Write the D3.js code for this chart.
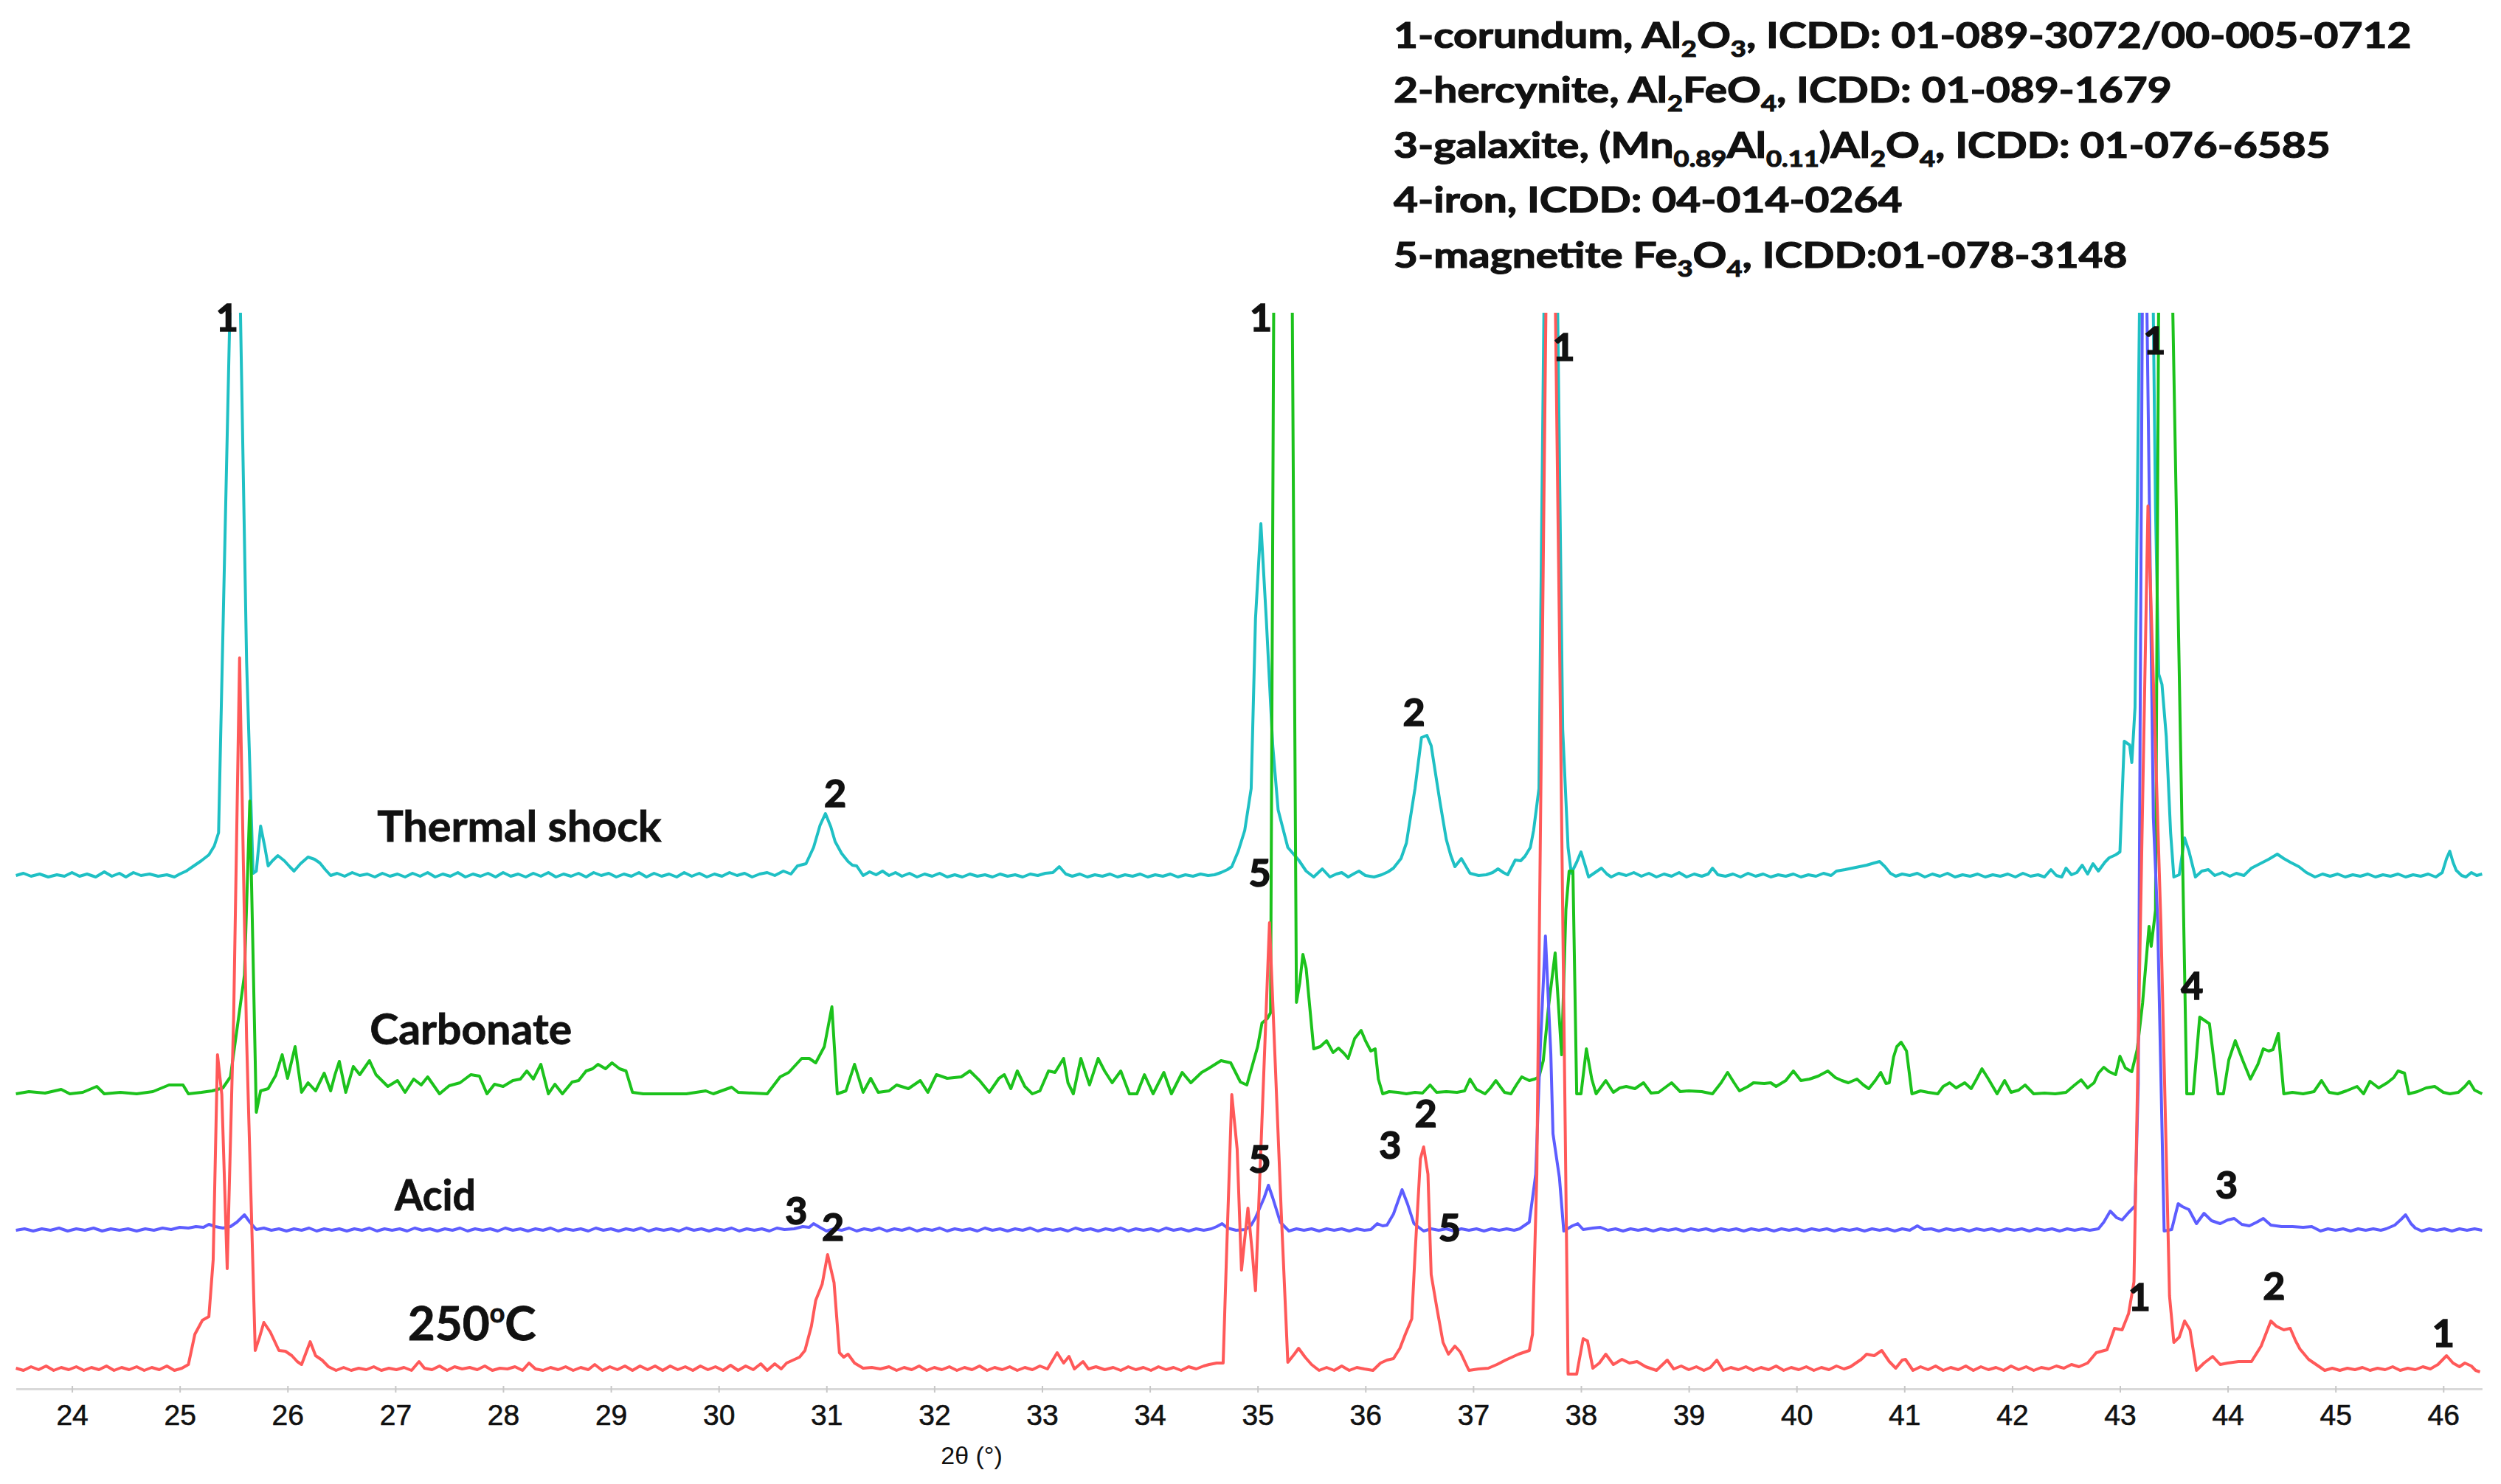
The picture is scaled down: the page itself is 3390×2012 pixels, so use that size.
<!DOCTYPE html>
<html><head><meta charset="utf-8">
<script src="https://cdn.jsdelivr.net/npm/d3@7"></script>
<style>html,body{margin:0;padding:0;background:#fff;}svg{display:block;}</style>
</head><body><div id="chart"></div>
<script>
// ---------------- DATA ----------------
const seriesNames = ["Thermal shock", "Carbonate", "Acid", "250°C"];
const seriesOffsets = [694, 400, 214, 25];
const xTicks = [24,25,26,27,28,29,30,31,32,33,34,35,36,37,38,39,40,41,42,43,44,45,46];
const xTitle = "2θ (°)";

const thermalShock = [[23.48,2],[23.55,5],[23.62,1],[23.70,4],[23.78,0],[23.86,3],[23.93,1],[24.00,6],[24.07,1],[24.14,4],[24.22,0],[24.30,7],[24.37,1],[24.44,5],[24.50,0],[24.57,6],[24.64,2],[24.72,4],[24.80,1],[24.88,3],[24.95,0],[25.00,4],[25.06,8],[25.12,14],[25.20,22],[25.27,30],[25.32,42],[25.36,60],[25.47,800],[25.515,1100],[25.56,790],[25.62,292],[25.68,5],[25.71,8],[25.75,69],[25.79,40],[25.82,15],[25.86,22],[25.91,29],[25.97,22],[26.02,14],[26.06,8],[26.12,18],[26.19,27],[26.25,24],[26.30,19],[26.35,10],[26.40,2],[26.46,5],[26.53,1],[26.60,6],[26.67,2],[26.74,4],[26.81,0],[26.88,5],[26.95,1],[27.02,4],[27.09,0],[27.16,5],[27.23,1],[27.30,6],[27.37,0],[27.44,4],[27.51,1],[27.58,6],[27.65,0],[27.72,4],[27.79,1],[27.86,5],[27.93,0],[28.00,6],[28.07,1],[28.14,4],[28.21,0],[28.28,5],[28.35,1],[28.42,6],[28.49,0],[28.56,4],[28.63,1],[28.70,5],[28.77,0],[28.84,6],[28.91,2],[28.98,5],[29.05,0],[29.12,4],[29.19,1],[29.26,6],[29.33,0],[29.40,5],[29.47,1],[29.54,4],[29.61,0],[29.68,6],[29.75,1],[29.82,5],[29.89,0],[29.96,4],[30.03,1],[30.10,6],[30.17,2],[30.24,5],[30.31,0],[30.38,4],[30.45,6],[30.52,2],[30.60,8],[30.67,4],[30.73,15],[30.81,18],[30.88,40],[30.94,70],[30.99,86],[31.04,68],[31.08,48],[31.14,32],[31.20,21],[31.24,16],[31.28,15],[31.34,2],[31.40,7],[31.46,3],[31.52,8],[31.58,2],[31.64,6],[31.70,1],[31.77,5],[31.84,0],[31.91,4],[31.98,1],[32.05,5],[32.12,0],[32.19,3],[32.26,0],[32.33,4],[32.40,1],[32.47,3],[32.54,0],[32.61,4],[32.68,1],[32.75,3],[32.82,0],[32.89,4],[32.96,2],[33.03,5],[33.10,6],[33.16,14],[33.22,4],[33.28,1],[33.35,4],[33.42,0],[33.49,3],[33.56,1],[33.63,4],[33.70,0],[33.77,3],[33.84,1],[33.91,4],[33.98,0],[34.05,3],[34.12,1],[34.19,4],[34.26,0],[34.33,3],[34.40,1],[34.47,4],[34.54,2],[34.60,3],[34.66,6],[34.72,10],[34.76,14],[34.82,35],[34.88,63],[34.94,120],[34.98,350],[35.03,479],[35.08,350],[35.14,178],[35.19,91],[35.28,40],[35.38,23],[35.45,8],[35.52,0],[35.60,11],[35.67,0],[35.73,4],[35.78,6],[35.84,0],[35.90,5],[35.94,8],[36.00,2],[36.08,0],[36.15,3],[36.21,7],[36.26,12],[36.33,25],[36.38,46],[36.46,120],[36.52,189],[36.57,192],[36.61,178],[36.69,103],[36.75,51],[36.79,30],[36.83,14],[36.89,25],[36.93,15],[36.97,5],[37.05,2],[37.12,3],[37.18,6],[37.23,11],[37.28,6],[37.32,3],[37.39,23],[37.44,22],[37.48,28],[37.53,40],[37.56,63],[37.61,120],[37.715,1600],[37.83,200],[37.88,40],[37.91,5],[37.96,20],[38.00,34],[38.04,15],[38.07,0],[38.13,6],[38.19,12],[38.24,4],[38.28,0],[38.35,5],[38.42,2],[38.49,6],[38.56,1],[38.63,5],[38.70,0],[38.77,4],[38.84,1],[38.91,6],[38.98,0],[39.05,4],[39.12,1],[39.18,4],[39.22,12],[39.27,3],[39.34,1],[39.41,4],[39.48,0],[39.55,5],[39.62,1],[39.69,4],[39.76,0],[39.83,3],[39.90,1],[39.97,4],[40.04,0],[40.11,3],[40.18,1],[40.25,5],[40.32,2],[40.37,8],[40.45,10],[40.55,13],[40.65,16],[40.72,19],[40.77,21],[40.82,14],[40.87,5],[40.92,1],[40.98,4],[41.05,2],[41.12,5],[41.19,0],[41.26,4],[41.33,1],[41.40,5],[41.47,0],[41.54,3],[41.61,1],[41.68,4],[41.75,0],[41.82,3],[41.89,1],[41.96,4],[42.03,0],[42.10,5],[42.17,1],[42.24,3],[42.30,0],[42.36,10],[42.41,2],[42.46,0],[42.50,12],[42.55,3],[42.60,6],[42.65,16],[42.70,4],[42.75,18],[42.80,8],[42.86,20],[42.90,26],[42.96,30],[43.00,34],[43.04,184],[43.09,179],[43.11,155],[43.14,230],[43.245,1600],[43.33,500],[43.36,275],[43.39,261],[43.43,190],[43.47,60],[43.50,0],[43.55,3],[43.60,53],[43.64,35],[43.70,0],[43.76,8],[43.82,10],[43.88,2],[43.95,6],[44.02,1],[44.08,5],[44.15,2],[44.22,12],[44.30,18],[44.38,24],[44.46,31],[44.52,25],[44.58,20],[44.66,14],[44.73,6],[44.81,0],[44.88,4],[44.95,1],[45.02,4],[45.09,0],[45.16,3],[45.23,1],[45.30,4],[45.37,0],[45.44,3],[45.51,1],[45.58,4],[45.65,0],[45.72,3],[45.79,1],[45.86,4],[45.93,0],[45.99,6],[46.03,25],[46.06,35],[46.09,20],[46.12,9],[46.17,2],[46.21,0],[46.26,6],[46.31,2],[46.36,4]];

const carbonate = [[23.48,0],[23.60,3],[23.75,1],[23.90,6],[23.98,0],[24.10,2],[24.23,10],[24.30,0],[24.45,2],[24.60,0],[24.75,3],[24.90,12],[25.03,12],[25.08,0],[25.20,2],[25.30,4],[25.40,8],[25.47,23],[25.60,161],[25.65,397],[25.71,-25],[25.75,4],[25.82,7],[25.89,25],[25.95,53],[26.00,21],[26.07,64],[26.13,2],[26.19,15],[26.26,4],[26.34,28],[26.40,4],[26.44,26],[26.48,44],[26.54,2],[26.61,37],[26.67,26],[26.76,45],[26.82,26],[26.93,10],[27.02,18],[27.09,2],[27.17,20],[27.24,12],[27.30,23],[27.41,0],[27.50,11],[27.60,15],[27.70,26],[27.78,24],[27.85,0],[27.92,13],[28.00,10],[28.09,18],[28.16,20],[28.22,31],[28.28,20],[28.35,40],[28.42,0],[28.48,13],[28.55,0],[28.64,16],[28.70,18],[28.77,31],[28.83,34],[28.88,40],[28.95,34],[29.01,42],[29.08,34],[29.14,31],[29.20,2],[29.30,0],[29.50,0],[29.70,0],[29.88,4],[29.95,0],[30.12,9],[30.18,2],[30.45,0],[30.57,23],[30.65,29],[30.77,48],[30.84,48],[30.90,42],[30.98,64],[31.05,118],[31.10,0],[31.18,4],[31.26,40],[31.34,2],[31.41,21],[31.48,2],[31.58,4],[31.65,12],[31.76,7],[31.87,18],[31.94,2],[32.02,26],[32.12,21],[32.25,23],[32.33,31],[32.42,18],[32.51,2],[32.60,21],[32.65,26],[32.71,7],[32.77,31],[32.84,10],[32.91,0],[32.98,4],[33.06,31],[33.12,29],[33.20,48],[33.24,15],[33.29,0],[33.36,48],[33.44,12],[33.52,48],[33.58,31],[33.65,15],[33.73,31],[33.81,0],[33.88,0],[33.95,26],[34.03,0],[34.13,29],[34.20,0],[34.30,29],[34.38,15],[34.48,29],[34.54,34],[34.66,45],[34.75,42],[34.84,16],[34.90,12],[35.00,64],[35.04,96],[35.09,102],[35.12,110],[35.15,1100],[35.235,1800],[35.32,1100],[35.36,124],[35.39,150],[35.42,189],[35.45,170],[35.52,61],[35.58,64],[35.64,72],[35.70,56],[35.75,62],[35.80,55],[35.84,48],[35.90,75],[35.96,86],[36.00,72],[36.05,58],[36.09,61],[36.12,20],[36.16,0],[36.22,3],[36.30,2],[36.38,0],[36.46,2],[36.53,1],[36.60,12],[36.66,2],[36.75,3],[36.85,2],[36.92,4],[36.97,20],[37.03,6],[37.11,0],[37.16,8],[37.21,18],[37.29,2],[37.35,0],[37.40,12],[37.45,23],[37.52,18],[37.57,20],[37.61,23],[37.65,45],[37.70,120],[37.76,191],[37.82,53],[37.86,250],[37.89,302],[37.925,302],[37.96,0],[38.00,0],[38.05,61],[38.10,20],[38.14,0],[38.23,18],[38.30,2],[38.36,8],[38.42,10],[38.50,7],[38.58,15],[38.65,1],[38.72,2],[38.84,15],[38.92,3],[39.00,4],[39.12,3],[39.22,0],[39.30,15],[39.36,29],[39.42,15],[39.47,4],[39.55,10],[39.60,15],[39.70,14],[39.76,15],[39.81,10],[39.90,18],[39.97,31],[40.04,18],[40.12,20],[40.20,24],[40.29,31],[40.36,22],[40.42,18],[40.48,15],[40.56,20],[40.62,12],[40.67,7],[40.73,18],[40.78,29],[40.83,14],[40.86,15],[40.90,50],[40.93,64],[40.97,70],[41.02,58],[41.07,0],[41.15,4],[41.22,2],[41.31,0],[41.36,10],[41.42,15],[41.48,8],[41.56,15],[41.62,7],[41.67,20],[41.72,34],[41.78,20],[41.86,0],[41.93,18],[41.99,2],[42.06,5],[42.12,12],[42.20,0],[42.30,1],[42.40,0],[42.50,2],[42.58,12],[42.64,19],[42.70,8],[42.76,15],[42.80,28],[42.85,36],[42.90,30],[42.96,26],[43.00,51],[43.05,35],[43.11,30],[43.16,60],[43.21,123],[43.27,227],[43.29,200],[43.33,249],[43.36,1100],[43.42,1600],[43.49,1064],[43.62,0],[43.68,0],[43.74,104],[43.78,100],[43.83,95],[43.91,0],[43.96,0],[44.01,46],[44.07,72],[44.14,45],[44.21,20],[44.28,40],[44.33,61],[44.38,58],[44.42,60],[44.47,82],[44.52,0],[44.60,2],[44.70,0],[44.80,3],[44.87,18],[44.94,2],[45.02,0],[45.10,4],[45.20,10],[45.26,0],[45.32,17],[45.40,8],[45.48,15],[45.54,22],[45.58,31],[45.64,28],[45.68,0],[45.76,3],[45.84,8],[45.92,10],[46.00,2],[46.06,0],[46.14,2],[46.20,10],[46.24,17],[46.29,5],[46.36,0]];

const acid = [[23.48,1],[23.56,3],[23.64,0],[23.72,3],[23.80,1],[23.88,4],[23.96,0],[24.04,3],[24.12,1],[24.20,4],[24.28,0],[24.36,3],[24.44,1],[24.52,3],[24.60,0],[24.68,3],[24.76,1],[24.84,4],[24.92,2],[25.00,5],[25.08,4],[25.15,6],[25.22,5],[25.27,9],[25.33,6],[25.40,4],[25.47,6],[25.53,12],[25.60,22],[25.65,12],[25.71,2],[25.78,4],[25.85,1],[25.92,3],[25.99,0],[26.06,3],[26.13,1],[26.20,4],[26.27,0],[26.34,3],[26.41,1],[26.48,3],[26.55,0],[26.62,3],[26.69,1],[26.76,4],[26.83,0],[26.90,3],[26.97,1],[27.04,3],[27.11,0],[27.18,4],[27.25,1],[27.32,3],[27.39,0],[27.46,3],[27.53,1],[27.60,4],[27.67,0],[27.74,3],[27.81,1],[27.88,3],[27.95,0],[28.02,4],[28.09,1],[28.16,3],[28.23,0],[28.30,3],[28.37,1],[28.44,4],[28.51,0],[28.58,3],[28.65,1],[28.72,3],[28.79,0],[28.86,4],[28.93,1],[29.00,3],[29.07,0],[29.14,3],[29.21,1],[29.28,4],[29.35,0],[29.42,3],[29.49,1],[29.56,3],[29.63,0],[29.70,4],[29.77,1],[29.84,3],[29.91,0],[29.98,3],[30.05,1],[30.12,4],[30.19,0],[30.26,3],[30.33,1],[30.40,3],[30.47,0],[30.54,4],[30.61,2],[30.70,3],[30.78,6],[30.84,5],[30.88,10],[30.95,4],[31.00,0],[31.07,3],[31.14,1],[31.21,4],[31.28,0],[31.35,3],[31.42,1],[31.49,4],[31.56,0],[31.63,3],[31.70,1],[31.77,4],[31.84,0],[31.91,3],[31.98,1],[32.05,4],[32.12,0],[32.19,3],[32.26,1],[32.33,3],[32.40,0],[32.47,4],[32.54,1],[32.61,3],[32.68,0],[32.75,3],[32.82,1],[32.89,4],[32.96,0],[33.03,3],[33.10,1],[33.17,3],[33.24,0],[33.31,4],[33.38,1],[33.45,3],[33.52,0],[33.59,3],[33.66,1],[33.73,4],[33.80,0],[33.87,3],[33.94,1],[34.01,3],[34.08,0],[34.15,4],[34.22,1],[34.29,3],[34.36,0],[34.43,3],[34.50,1],[34.57,3],[34.62,6],[34.67,10],[34.72,4],[34.80,1],[34.89,2],[34.94,8],[34.98,18],[35.06,45],[35.10,62],[35.14,45],[35.21,12],[35.29,0],[35.36,3],[35.43,1],[35.50,3],[35.57,0],[35.64,3],[35.71,1],[35.78,3],[35.85,0],[35.92,3],[35.99,1],[36.05,2],[36.11,10],[36.16,7],[36.20,8],[36.26,23],[36.34,56],[36.39,37],[36.45,10],[36.54,0],[36.61,3],[36.68,1],[36.75,3],[36.82,0],[36.89,3],[36.96,1],[37.03,3],[37.10,0],[37.17,3],[37.24,1],[37.31,3],[37.38,1],[37.43,3],[37.52,12],[37.58,77],[37.62,240],[37.67,400],[37.72,240],[37.74,132],[37.80,72],[37.84,0],[37.92,7],[37.97,10],[38.02,2],[38.11,4],[38.18,5],[38.25,1],[38.32,3],[38.39,0],[38.46,3],[38.53,1],[38.60,3],[38.67,0],[38.74,3],[38.81,1],[38.88,3],[38.95,0],[39.02,3],[39.09,1],[39.16,3],[39.23,0],[39.30,3],[39.37,1],[39.44,3],[39.51,0],[39.58,3],[39.65,1],[39.72,3],[39.79,0],[39.86,3],[39.93,1],[40.00,3],[40.07,0],[40.14,3],[40.21,1],[40.28,3],[40.35,0],[40.42,3],[40.49,1],[40.56,3],[40.63,0],[40.70,3],[40.77,1],[40.84,3],[40.91,0],[40.98,3],[41.05,1],[41.12,7],[41.18,2],[41.25,3],[41.32,0],[41.39,3],[41.46,1],[41.53,3],[41.60,0],[41.67,3],[41.74,1],[41.81,3],[41.88,0],[41.95,3],[42.02,1],[42.09,3],[42.16,0],[42.23,3],[42.30,1],[42.37,3],[42.44,0],[42.51,3],[42.58,1],[42.65,3],[42.72,1],[42.80,3],[42.85,12],[42.91,27],[42.97,18],[43.02,15],[43.08,25],[43.14,34],[43.17,200],[43.22,1600],[43.31,560],[43.35,420],[43.41,0],[43.48,2],[43.54,37],[43.58,33],[43.64,29],[43.71,10],[43.78,24],[43.85,14],[43.93,10],[44.00,15],[44.06,17],[44.13,9],[44.20,7],[44.27,12],[44.33,17],[44.40,8],[44.50,6],[44.60,6],[44.70,5],[44.78,6],[44.86,0],[44.93,3],[45.00,1],[45.07,3],[45.14,0],[45.21,3],[45.28,1],[45.35,3],[45.42,1],[45.47,3],[45.55,8],[45.61,16],[45.65,22],[45.70,10],[45.74,4],[45.80,0],[45.87,3],[45.94,1],[46.01,3],[46.08,0],[46.15,3],[46.22,1],[46.29,3],[46.36,1]];

const heated250 = [[23.48,3],[23.55,0],[23.62,5],[23.69,1],[23.76,6],[23.83,0],[23.90,4],[23.97,1],[24.04,5],[24.11,0],[24.18,4],[24.25,1],[24.32,6],[24.39,0],[24.46,4],[24.53,1],[24.60,5],[24.67,0],[24.74,4],[24.81,1],[24.88,6],[24.95,0],[25.02,3],[25.08,8],[25.14,49],[25.21,68],[25.27,73],[25.31,150],[25.35,428],[25.39,374],[25.44,138],[25.50,480],[25.555,966],[25.62,450],[25.70,27],[25.74,45],[25.78,65],[25.84,52],[25.92,27],[25.98,26],[26.04,20],[26.09,12],[26.13,8],[26.21,39],[26.26,20],[26.32,14],[26.38,5],[26.45,0],[26.52,4],[26.59,0],[26.66,3],[26.73,1],[26.80,5],[26.87,0],[26.94,3],[27.01,1],[27.08,4],[27.15,0],[27.22,12],[27.27,3],[27.34,1],[27.41,6],[27.48,0],[27.55,5],[27.62,2],[27.69,4],[27.76,1],[27.83,6],[27.90,0],[27.97,3],[28.04,2],[28.11,5],[28.18,0],[28.24,10],[28.30,2],[28.37,0],[28.44,4],[28.51,1],[28.58,5],[28.65,0],[28.72,4],[28.79,1],[28.85,8],[28.92,0],[28.99,5],[29.06,1],[29.13,6],[29.20,0],[29.27,6],[29.34,1],[29.41,6],[29.48,0],[29.55,6],[29.62,1],[29.69,5],[29.76,0],[29.83,6],[29.90,1],[29.97,5],[30.04,0],[30.11,7],[30.18,0],[30.25,6],[30.32,1],[30.39,9],[30.45,0],[30.52,9],[30.58,2],[30.63,10],[30.69,14],[30.75,18],[30.80,27],[30.86,60],[30.90,95],[30.96,117],[31.01,157],[31.07,119],[31.12,24],[31.16,18],[31.20,22],[31.26,10],[31.34,3],[31.42,4],[31.50,2],[31.58,5],[31.65,0],[31.72,4],[31.79,1],[31.86,6],[31.93,0],[32.00,4],[32.07,1],[32.14,5],[32.21,0],[32.28,4],[32.35,1],[32.42,6],[32.49,0],[32.56,4],[32.63,1],[32.70,5],[32.77,0],[32.84,4],[32.91,1],[32.98,6],[33.05,2],[33.14,24],[33.20,10],[33.25,19],[33.30,2],[33.38,12],[33.43,2],[33.50,5],[33.58,1],[33.66,4],[33.73,0],[33.80,5],[33.87,1],[33.94,4],[34.01,0],[34.08,5],[34.15,1],[34.22,4],[34.29,0],[34.36,5],[34.43,2],[34.50,6],[34.55,8],[34.62,10],[34.68,10],[34.71,150],[34.76,374],[34.81,300],[34.85,136],[34.91,220],[34.95,160],[34.98,108],[35.11,607],[35.16,428],[35.22,211],[35.28,11],[35.34,22],[35.38,30],[35.44,18],[35.50,8],[35.57,0],[35.64,4],[35.71,0],[35.78,6],[35.85,0],[35.92,4],[35.99,2],[36.07,0],[36.14,10],[36.20,14],[36.26,16],[36.32,30],[36.37,49],[36.43,70],[36.46,157],[36.51,287],[36.54,303],[36.58,266],[36.61,130],[36.66,87],[36.72,38],[36.77,22],[36.83,33],[36.88,25],[36.96,0],[37.05,2],[37.14,3],[37.22,8],[37.30,14],[37.36,18],[37.42,22],[37.52,27],[37.55,49],[37.59,266],[37.715,2000],[37.80,1000],[37.88,-5],[37.96,-5],[38.02,43],[38.06,40],[38.11,3],[38.17,10],[38.23,22],[38.30,8],[38.38,15],[38.45,10],[38.52,12],[38.60,5],[38.70,0],[38.80,14],[38.86,2],[38.93,6],[39.00,1],[39.07,5],[39.14,0],[39.20,4],[39.26,14],[39.32,0],[39.39,4],[39.46,1],[39.53,5],[39.60,0],[39.67,4],[39.74,1],[39.81,6],[39.88,0],[39.95,4],[40.02,1],[40.09,5],[40.16,0],[40.23,4],[40.30,1],[40.37,6],[40.44,2],[40.50,5],[40.55,10],[40.60,15],[40.65,22],[40.72,20],[40.79,27],[40.86,12],[40.92,3],[40.98,14],[41.01,15],[41.08,0],[41.15,5],[41.22,1],[41.29,6],[41.36,0],[41.43,4],[41.50,1],[41.57,6],[41.64,0],[41.71,5],[41.78,1],[41.85,4],[41.92,0],[41.99,6],[42.06,1],[42.13,5],[42.20,0],[42.27,4],[42.34,2],[42.41,6],[42.48,3],[42.55,8],[42.62,5],[42.70,10],[42.78,24],[42.88,28],[42.95,57],[43.02,55],[43.08,77],[43.13,120],[43.26,1172],[43.38,605],[43.46,101],[43.50,38],[43.55,45],[43.60,67],[43.65,55],[43.71,0],[43.78,10],[43.86,19],[43.93,8],[44.00,10],[44.10,12],[44.22,12],[44.31,33],[44.40,67],[44.45,60],[44.52,55],[44.58,57],[44.63,40],[44.67,29],[44.75,15],[44.90,0],[44.97,3],[45.04,0],[45.11,3],[45.18,1],[45.25,4],[45.32,0],[45.39,3],[45.46,1],[45.53,5],[45.60,0],[45.67,3],[45.74,1],[45.81,5],[45.88,2],[45.95,8],[46.03,20],[46.09,10],[46.15,5],[46.20,10],[46.26,6],[46.30,0],[46.34,-2]];

// peak annotations: phase number, 2θ position, absolute level on the stacked scale
const peakText  = ["1","2","1","2","1","5","1","4","3","1","2","1","5","3","2","5","3","2"];
const peakTheta = [25.44,31.08,35.03,36.45,37.84,35.02,43.32,43.67,43.99,43.18,44.43,46.00,35.02,36.23,36.56,36.78,30.72,31.06];
const peakLevel = [1454,809,1454,919,1414,701,1423,548,278,126,141,77,313,332,375,220,243,221];

// series name labels: 2θ centre and level of the text baseline
const seriesLabelTheta = [28.15, 27.70, 27.37, 27.71];
const seriesLabelLevel = [742, 467, 242, 66];

// legend (phase list), segments: [text, isSubscript]
const legendLines = [
  [["1-corundum, Al",0],["2",1],["O",0],["3",1],[", ICDD: 01-089-3072/00-005-0712",0]],
  [["2-hercynite, Al",0],["2",1],["FeO",0],["4",1],[", ICDD: 01-089-1679",0]],
  [["3-galaxite, (Mn",0],["0.89",1],["Al",0],["0.11",1],[")Al",0],["2",1],["O",0],["4",1],[", ICDD: 01-076-6585",0]],
  [["4-iron, ICDD: 04-014-0264",0]],
  [["5-magnetite Fe",0],["3",1],["O",0],["4",1],[", ICDD:01-078-3148",0]]
];

// ---------------- STYLE / LAYOUT ----------------
const W = 3390, H = 2012;
const colors = ["#1fc0c4", "#1cc21c", "#5d5dff", "#ff5959"];
const seriesData = [thermalShock, carbonate, acid, heated250];
const labelWidths = [386, 274, 111, 174];
const labelFont = "Lato, 'Open Sans', 'DejaVu Sans', sans-serif";

const svg = d3.select("#chart").append("svg")
  .attr("width", W).attr("height", H)
  .style("background", "#fff");
svg.append("rect").attr("width", W).attr("height", H).attr("fill", "#fff");

const x = d3.scaleLinear().domain([23.48, 46.36]).range([21.6, 3364.4]);
const y = d3.scaleLinear().domain([0, 1459]).range([1883, 424]);

svg.append("clipPath").attr("id", "plotclip")
  .append("rect").attr("x", 0).attr("y", y(1459)).attr("width", W).attr("height", y(0) - y(1459) + 60);

// axis
const axis = d3.axisBottom(x).tickValues(xTicks).tickFormat(d3.format("d"))
  .tickSizeInner(5).tickSizeOuter(0).tickPadding(16);
const gAxis = svg.append("g").attr("transform", `translate(0,${y(0)})`).call(axis);
gAxis.select(".domain").attr("stroke", "#d9d9d9").attr("stroke-width", 3);
gAxis.selectAll(".tick line").attr("stroke", "#c8c8c8").attr("stroke-width", 2).attr("y1", -4).attr("y2", 5);
gAxis.selectAll(".tick text")
  .attr("font-family", "'Liberation Sans', Arial, sans-serif")
  .attr("font-size", 39).attr("fill", "#111")
  .attr("stroke", "#111").attr("stroke-width", 0.6);

svg.append("text").attr("x", 1317).attr("y", 1985)
  .attr("text-anchor", "middle")
  .attr("font-family", "'Liberation Sans', Arial, sans-serif")
  .attr("font-size", 34).attr("fill", "#111").text(xTitle);

// traces
const gLines = svg.append("g").attr("clip-path", "url(#plotclip)");
seriesData.forEach((data, i) => {
  const off = seriesOffsets[i];
  const line = d3.line().x(d => x(d[0])).y(d => y(d[1] + off));
  gLines.append("path").datum(data)
    .attr("d", line)
    .attr("fill", "none")
    .attr("stroke", colors[i])
    .attr("stroke-width", 4)
    .attr("stroke-linejoin", "round");
});

// peak annotations
svg.append("g").selectAll("text").data(peakText).join("text")
  .attr("x", (d, i) => x(peakTheta[i]))
  .attr("y", (d, i) => y(peakLevel[i]))
  .attr("text-anchor", "middle")
  .attr("dominant-baseline", "central")
  .attr("font-family", labelFont)
  .attr("font-weight", 700)
  .attr("font-size", 52)
  .attr("fill", "#111")
  .attr("stroke", "#111").attr("stroke-width", 1.6)
  .text(d => d);

// series labels
seriesNames.forEach((name, i) => {
  const g = svg.append("g");
  const t = g.append("text")
    .attr("text-anchor", "middle")
    .attr("font-family", labelFont)
    .attr("font-weight", 700)
    .attr("font-size", i === 3 ? 64 : 57)
    .attr("fill", "#111")
    .attr("stroke", "#111").attr("stroke-width", 0.8);
  if (name.indexOf("°") >= 0) {
    const parts = name.split("°");
    t.append("tspan").text(parts[0]);
    t.append("tspan").attr("font-size", 36).attr("dy", -24).text("o");
    t.append("tspan").attr("dy", 24).text(parts[1]);
  } else {
    t.text(name);
  }
  const w = t.node().getBBox().width;
  const sx = labelWidths[i] / w;
  g.attr("transform", `translate(${x(seriesLabelTheta[i])},${y(seriesLabelLevel[i])}) scale(${sx},1)`);
});

// legend
const gLeg = svg.append("g");
legendLines.forEach((segs, li) => {
  const t = gLeg.append("text")
    .attr("x", 0).attr("y", 65 + li * 74.5)
    .attr("font-family", labelFont)
    .attr("font-weight", 700)
    .attr("font-size", 47)
    .attr("fill", "#111")
    .attr("stroke", "#111").attr("stroke-width", 1.2);
  let shifted = false;
  segs.forEach(s => {
    const ts = t.append("tspan").text(s[0]);
    if (s[1]) {
      ts.attr("font-size", 30);
      if (!shifted) { ts.attr("dy", 12); shifted = true; }
    } else if (shifted) {
      ts.attr("dy", -12); shifted = false;
    }
  });
});
const firstW = gLeg.select("text").node().getBBox().width;
const lsx = 1380 / firstW;
gLeg.attr("transform", `translate(1889,0) scale(${lsx},1)`);
</script>
</body></html>
